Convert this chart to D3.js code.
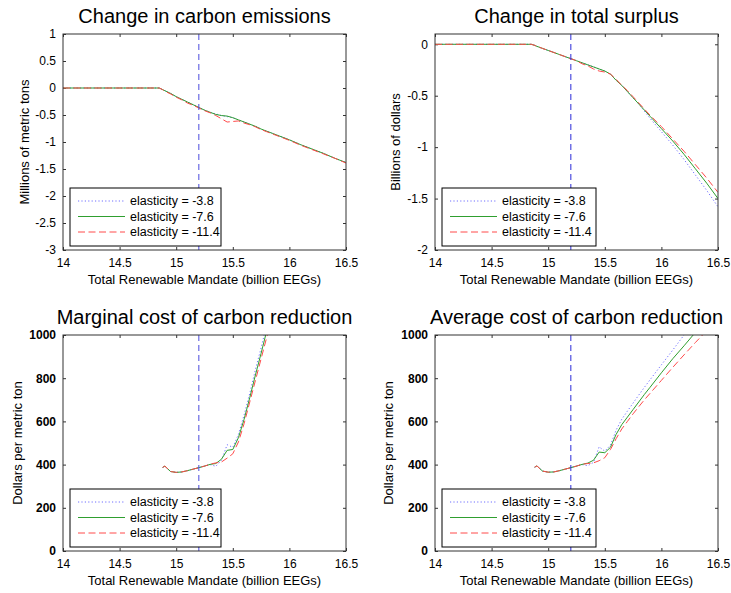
<!DOCTYPE html>
<html>
<head>
<meta charset="utf-8">
<script src="https://cdn.jsdelivr.net/npm/d3@7"></script>
<style>
  body { margin: 0; background: #fff; }
  svg { display: block; font-family: "Liberation Sans", Arial, sans-serif; }
</style>
</head>
<body>
<div id="chart"></div>
<script>
// x grid shared by every series (billion EEGs)
const mandate = [14.0, 14.85, 14.88, 14.9, 14.95, 15.0, 15.05, 15.1, 15.15, 15.2, 15.25, 15.3, 15.35, 15.4, 15.45,
                 15.5, 15.55, 15.6, 15.65, 15.7, 15.75, 15.8, 15.85, 15.9, 16.0, 16.1, 16.2, 16.3, 16.4, 16.5];

// change in carbon emissions (millions of metric tons)
const emis38  = [0, 0, -0.03, -0.05, -0.10, -0.16, -0.21, -0.26, -0.31, -0.36, -0.41, -0.45, -0.48, -0.51, -0.53,
                 -0.55, -0.59, -0.63, -0.67, -0.71, -0.76, -0.80, -0.84, -0.88, -0.96, -1.05, -1.13, -1.21, -1.30, -1.38];
const emis76  = [0, 0, -0.03, -0.05, -0.10, -0.16, -0.21, -0.26, -0.31, -0.36, -0.41, -0.45, -0.49, -0.51, -0.52,
                 -0.55, -0.59, -0.63, -0.67, -0.71, -0.76, -0.80, -0.84, -0.88, -0.96, -1.05, -1.13, -1.21, -1.30, -1.38];
const emis114 = [0, 0, -0.03, -0.06, -0.11, -0.17, -0.22, -0.28, -0.32, -0.37, -0.42, -0.46, -0.51, -0.57, -0.63,
                 -0.62, -0.61, -0.65, -0.68, -0.72, -0.77, -0.81, -0.85, -0.89, -0.97, -1.06, -1.14, -1.22, -1.30, -1.39];

// change in total surplus (billions of dollars)
const surp38  = [0, 0, -0.01, -0.02, -0.04, -0.06, -0.08, -0.10, -0.12, -0.14, -0.16, -0.18, -0.20, -0.22, -0.24,
                 -0.26, -0.29, -0.35, -0.40, -0.46, -0.52, -0.58, -0.65, -0.72, -0.85, -0.98, -1.12, -1.27, -1.42, -1.58];
const surp76  = [0, 0, -0.01, -0.02, -0.04, -0.06, -0.08, -0.10, -0.12, -0.14, -0.16, -0.18, -0.20, -0.22, -0.24,
                 -0.26, -0.29, -0.35, -0.40, -0.46, -0.52, -0.58, -0.64, -0.70, -0.82, -0.94, -1.07, -1.21, -1.35, -1.50];
const surp114 = [0, 0, -0.01, -0.02, -0.04, -0.06, -0.08, -0.10, -0.12, -0.14, -0.16, -0.19, -0.21, -0.24, -0.26,
                 -0.27, -0.29, -0.34, -0.40, -0.45, -0.51, -0.57, -0.63, -0.69, -0.80, -0.92, -1.04, -1.17, -1.30, -1.44];

// marginal cost of carbon reduction ($ per metric ton)
const mc38  = [null, null, 387, 393, 368, 364, 366, 372, 379, 386, 393, 400, 392, 420, 492,
               480, 540, 630, 730, 840, 940, 1050, null, null, null, null, null, null, null, null];
const mc76  = [null, null, 387, 393, 368, 364, 366, 372, 379, 386, 393, 401, 405, 425, 466,
               470, 525, 610, 710, 815, 915, 1020, 1120, null, null, null, null, null, null, null];
const mc114 = [null, null, 387, 393, 368, 364, 366, 372, 379, 386, 393, 402, 408, 412, 430,
               450, 505, 590, 690, 790, 890, 990, 1090, null, null, null, null, null, null, null];

// average cost of carbon reduction ($ per metric ton)
const ac38  = [null, null, 388, 394, 370, 365, 366, 372, 379, 386, 393, 400, 395, 410, 482,
               462, 490, 560, 610, 648, 685, 722, 758, 793, 862, 930, 1000, 1070, null, null];
const ac76  = [null, null, 388, 394, 370, 365, 366, 372, 379, 386, 393, 401, 407, 420, 458,
               455, 480, 540, 585, 620, 655, 690, 725, 758, 825, 890, 950, 1012, null, null];
const ac114 = [null, null, 388, 394, 370, 365, 366, 372, 379, 386, 393, 402, 405, 408, 418,
               432, 470, 520, 565, 600, 635, 668, 700, 730, 790, 850, 908, 965, 1020, null];

const legendLabels = ["elasticity = -3.8", "elasticity = -7.6", "elasticity = -11.4"];
const xTicks = [14, 14.5, 15, 15.5, 16, 16.5];
const policyMandate = 15.2;

// line styles for the three elasticities
const styles = [
  {color: "#6f6fff", dash: "1.2,2.2", width: 1},
  {color: "#2f9f2f", dash: "", width: 1},
  {color: "#ff4a4a", dash: "7,3.5", width: 1}
];

const svg = d3.select("#chart").append("svg")
    .attr("width", 731).attr("height", 593);

const panels = [
  {title: "Change in carbon emissions", ylabel: "Millions of metric tons", left: 63, top: 34,
   yDomain: [-3, 1], yTicks: [-3, -2.5, -2, -1.5, -1, -0.5, 0, 0.5, 1], series: [emis38, emis76, emis114],
   vcolor: "#4b4bdd", boldY: false, ylabOff: 39},
  {title: "Change in total surplus", ylabel: "Billions of dollars", left: 435, top: 34,
   yDomain: [-2, 0.1], yTicks: [-2, -1.5, -1, -0.5, 0], series: [surp38, surp76, surp114],
   vcolor: "#2a2ad8", boldY: false, ylabOff: 40},
  {title: "Marginal cost of carbon reduction", ylabel: "Dollars per metric ton", left: 63, top: 335,
   yDomain: [0, 1000], yTicks: [0, 200, 400, 600, 800, 1000], series: [mc38, mc76, mc114],
   vcolor: "#4b4bdd", boldY: true, ylabOff: 46},
  {title: "Average cost of carbon reduction", ylabel: "Dollars per metric ton", left: 435, top: 335,
   yDomain: [0, 1000], yTicks: [0, 200, 400, 600, 800, 1000], series: [ac38, ac76, ac114],
   vcolor: "#2a2ad8", boldY: true, ylabOff: 47}
];

const W = 283, H = 216;

panels.forEach((p, pi) => {
  const g = svg.append("g").attr("transform", `translate(${p.left},${p.top})`);
  const x = d3.scaleLinear().domain([14, 16.5]).range([0, W]);
  const y = d3.scaleLinear().domain(p.yDomain).range([H, 0]);
  const fmt = d => String(d);

  // axes with inward ticks, mirrored on top/right
  const xa = g.append("g").attr("transform", `translate(0,${H})`)
      .call(d3.axisBottom(x).tickValues(xTicks).tickFormat(fmt).tickSizeInner(-3).tickSizeOuter(0).tickPadding(8));
  g.append("g").call(d3.axisTop(x).tickValues(xTicks).tickFormat("").tickSizeInner(-3).tickSizeOuter(0));
  const ya = g.append("g")
      .call(d3.axisLeft(y).tickValues(p.yTicks).tickFormat(fmt).tickSizeInner(-3).tickSizeOuter(0).tickPadding(7));
  g.append("g").attr("transform", `translate(${W},0)`)
      .call(d3.axisRight(y).tickValues(p.yTicks).tickFormat("").tickSizeInner(-3).tickSizeOuter(0));
  g.selectAll(".domain").remove();
  g.selectAll(".tick line").attr("stroke", "#333");
  [xa, ya].forEach(a => a.selectAll("text").attr("fill", "#000").style("font-size", "12px")
      .style("font-family", "'Liberation Sans', Arial, sans-serif"));
  if (p.boldY) ya.selectAll("text").style("font-weight", "bold");

  // clip for the curves
  g.append("clipPath").attr("id", "clip" + pi)
    .append("rect").attr("width", W).attr("height", H);
  const plot = g.append("g").attr("clip-path", `url(#clip${pi})`);

  const line = d3.line()
      .defined(d => d[1] != null)
      .x(d => x(d[0])).y(d => y(d[1]));

  p.series.forEach((s, si) => {
    const pts = mandate.map((m, i) => [m, s[i]]);
    plot.append("path").datum(pts)
      .attr("d", line)
      .attr("fill", "none")
      .attr("stroke", styles[si].color)
      .attr("stroke-width", styles[si].width)
      .attr("stroke-dasharray", styles[si].dash || null);
  });

  // policy mandate marker
  plot.append("line")
    .attr("x1", x(policyMandate)).attr("x2", x(policyMandate))
    .attr("y1", 0).attr("y2", H)
    .attr("stroke", p.vcolor).attr("stroke-width", 1)
    .attr("stroke-dasharray", "6,4");

  // box
  g.append("rect").attr("width", W).attr("height", H)
    .attr("fill", "none").attr("stroke", "#333").attr("stroke-width", 1);

  // title and labels
  g.append("text").attr("x", W / 2).attr("y", -11)
    .attr("text-anchor", "middle").style("font-size", "20px").text(p.title);
  g.append("text").attr("x", W / 2).attr("y", H + 34)
    .attr("text-anchor", "middle").style("font-size", "13px")
    .text("Total Renewable Mandate (billion EEGs)");
  g.append("text")
    .attr("transform", `translate(${-p.ylabOff},${H / 2}) rotate(-90)`)
    .attr("dy", "0.35em")
    .attr("text-anchor", "middle").style("font-size", "13px").text(p.ylabel);

  // legend
  const lw = pi % 2 === 0 ? 151 : 154, lh = 58;
  const lg = g.append("g").attr("transform", `translate(7,${H - 4 - lh})`);
  lg.append("rect").attr("width", lw).attr("height", lh)
    .attr("fill", "#fff").attr("stroke", "#000").attr("stroke-width", 1);
  legendLabels.forEach((lab, i) => {
    const ly = 13 + i * 15.5;
    lg.append("line").attr("x1", 8).attr("x2", 55).attr("y1", ly).attr("y2", ly)
      .attr("stroke", styles[i].color).attr("stroke-width", styles[i].width)
      .attr("stroke-dasharray", styles[i].dash || null);
    lg.append("text").attr("x", 60).attr("y", ly).attr("dy", "0.35em")
      .style("font-size", "12.5px").text(lab);
  });
});
</script>
</body>
</html>
